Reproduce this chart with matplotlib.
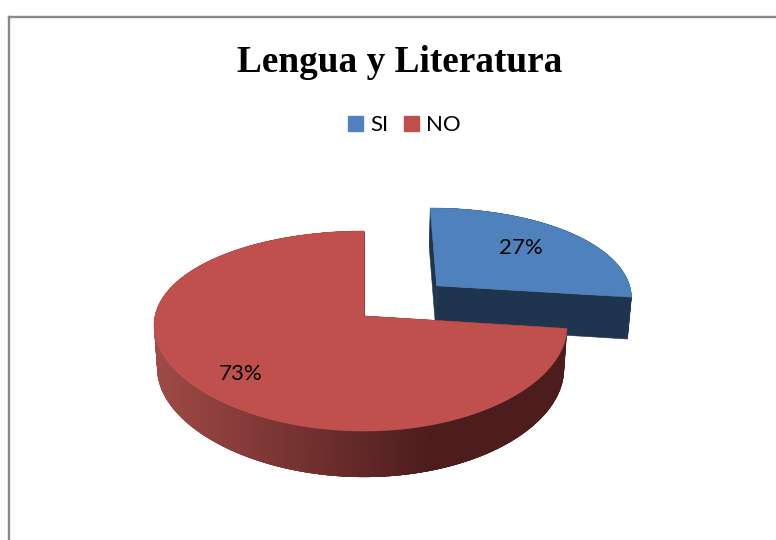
import numpy as np
import matplotlib
matplotlib.use("Agg")
import matplotlib.pyplot as plt
from matplotlib.patches import Patch, Polygon
from matplotlib.colors import to_rgb

# ---- data ----
title = "Lengua y Literatura"
categories = ["SI", "NO"]
values = [27, 73]
top_colors = ["#4F81BD", "#C0504D"]
explode = [0.49, 0.0]

# ---- layout (pixels of the 776x540 picture) ----
W, H = 776, 540
CX, CY = 364, 316
RX, RY = 205.5, 97.75
KX, KY = 0.10, 0.15
BEND = 3.5
DEPTH = 42.5
NARROW = 0.985
BLUE_DARK = "#1F344F"
RED_SIDE = "#A04A47"
RED_DARK = "#4D1D1D"
RED_INNER = "#8E3D3A"

fig = plt.figure(figsize=(W / 100, H / 100), dpi=100)
fl, ft = 9, 17
ax = fig.add_axes([fl / W, 0, 1 - fl / W, 1 - ft / H])
ax.set_xlim(fl, W)
ax.set_ylim(H, ft)
ax.set_xticks([])
ax.set_yticks([])
for s in ("right", "bottom"):
    ax.spines[s].set_visible(False)
for s in ("left", "top"):
    ax.spines[s].set_color("#8A8A8A")
    ax.spines[s].set_linewidth(1.7)


def project(u, v):
    u, v = np.asarray(u, float), np.asarray(v, float)
    x = CX + RX * u / (1 + KX * v) - BEND * u ** 2
    y = CY - RY * v / (1 + KY * v)
    return x, y


def drop(u, v):
    x, y = project(u, v)
    s = 1 / (1 + KY * np.asarray(v, float))
    return CX + (x - CX) * NARROW, y + DEPTH * np.sqrt(s)


def poly(x, y, color, z, lw=0.4):
    ax.add_patch(Polygon(np.column_stack([x, y]), closed=True, facecolor=color,
                         edgecolor=color if lw else "none", linewidth=lw, zorder=z))


total = sum(values)
edges = np.cumsum([0] + values) / total * 2 * np.pi
mix = lambda a, b, t: tuple((1 - t) * np.array(to_rgb(a)) + t * np.array(to_rgb(b)))

for i, (val, col, ex) in enumerate(zip(values, top_colors, explode)):
    t0, t1 = edges[i], edges[i + 1]
    mid = (t0 + t1) / 2
    ou, ov = ex * np.sin(mid), ex * np.cos(mid)
    th = np.linspace(t0, t1, 240)
    au, av = ou + np.sin(th), ov + np.cos(th)
    base = 10 * (i + 1)

    # radial walls
    for t in (t0, t1):
        pu = np.array([ou, ou + np.sin(t)])
        pv = np.array([ov, ov + np.cos(t)])
        x, y = project(pu, pv)
        bx, by = drop(pu, pv)
        c = BLUE_DARK if i == 0 else (RED_INNER if t == t1 else RED_DARK)
        poly(np.r_[x, bx[::-1]], np.r_[y, by[::-1]], c, base + 2)

    # outer wall: overlapping slices, so that no seams show in the shading
    x, y = project(au, av)
    bx, by = drop(au, av)
    n = len(th)
    for k in range(n - 1):
        e = min(k + 4, n - 1)
        xm = (x[k] + x[k + 1]) / 2
        if i == 0:
            c = BLUE_DARK
        else:
            c = mix(RED_SIDE, RED_DARK, float(np.clip((xm - 154) / (430 - 154), 0, 1)))
        kk = np.arange(k, e + 1)
        poly(np.r_[x[kk], bx[kk][::-1]], np.r_[y[kk], by[kk][::-1]], c, base + 1, lw=0)

    # top face
    ax0, ay0 = project(ou, ov)
    poly(np.r_[ax0, x], np.r_[ay0, y], col, base + 5)

# labels
label_xy = [(521, 248), (241, 374)]
for val, (lx, ly) in zip(values, label_xy):
    ax.text(lx, ly, f"{val}%", ha="center", va="center", fontsize=16,
            family="Lato", color="black", zorder=50)

ax.text(399.5, 62.5, title, ha="center", va="center", fontsize=26.8, fontweight="bold",
        family="Liberation Serif", color="black", zorder=50)

handles = [Patch(facecolor=c, edgecolor=c, label=n) for c, n in zip(top_colors, categories)]
fig.legend(handles=handles, loc="center", bbox_to_anchor=(404.5 / W, 1 - 125 / H), ncol=2,
           frameon=False, prop={"family": "Lato", "size": 16}, handlelength=0.66, handleheight=0.66,
           handletextpad=0.35, columnspacing=0.7, borderpad=0, borderaxespad=0)

fig.savefig("out.png", dpi=100)
